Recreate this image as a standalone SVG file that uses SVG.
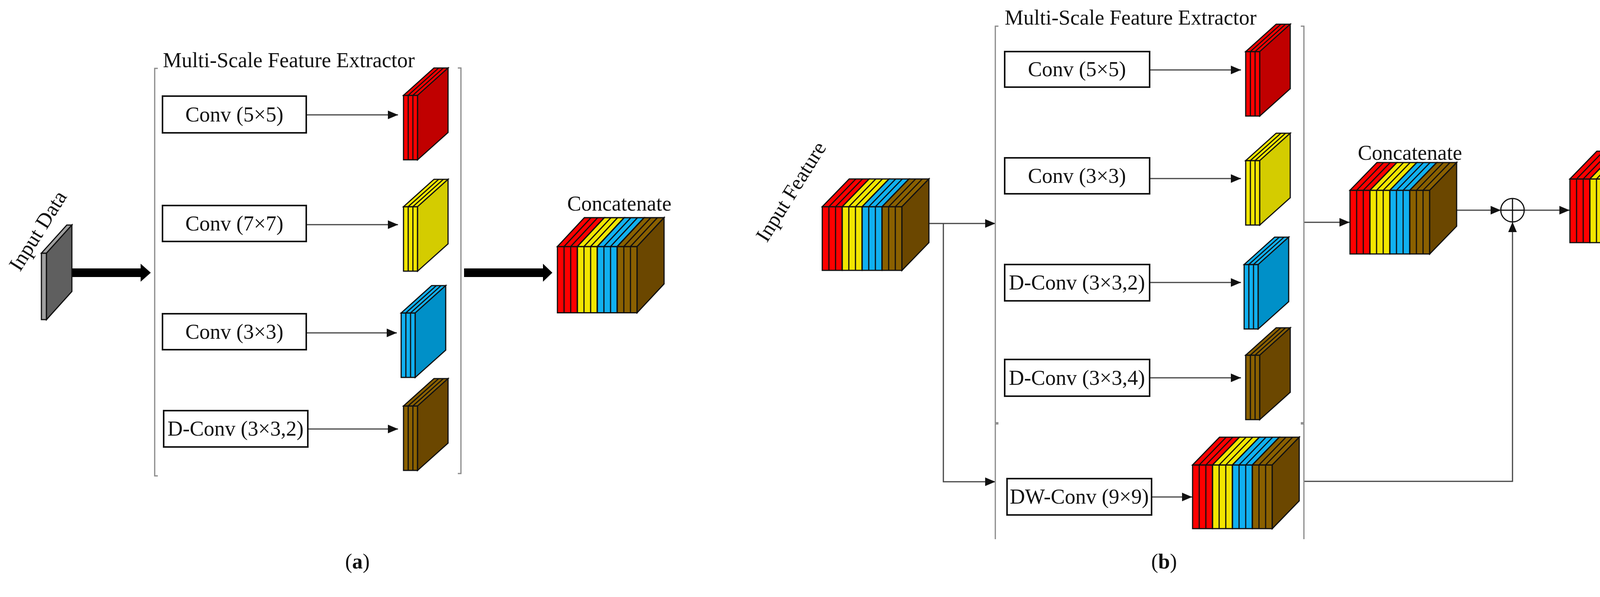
<svg xmlns="http://www.w3.org/2000/svg" width="4306" height="1528" viewBox="0 0 4306 1528">
<style>
text{font-family:"Liberation Serif","Times New Roman",serif;font-size:54px;fill:#111}
.box{fill:#fff;stroke:#111;stroke-width:4}
.br{fill:none;stroke:#888;stroke-width:3}
.ln{fill:none;stroke:#444;stroke-width:3;marker-end:url(#ah)}
.sl *{stroke:#111;stroke-width:3;stroke-linejoin:miter}
.sep{fill:none}
.rF{fill:#ff0000}.rS{fill:#c00000}
.yF{fill:#f2e600}.yS{fill:#d4cc00}
.bF{fill:#10b0f0}.bS{fill:#0090c8}
.nF{fill:#8a6000}.nS{fill:#6b4700}
.tc{text-anchor:middle}
</style>
<defs>
<marker id="ah" markerUnits="userSpaceOnUse" markerWidth="30" markerHeight="26" refX="26" refY="11" orient="auto">
<path d="M0,0 L26,11 L0,22 Z" fill="#111"/>
</marker>
<g id="s3r" class="sl"><rect class="rF" x="0" y="0" width="36" height="165"/><polygon class="rF" points="0,0 78,-70 114,-70 36,0"/><polygon class="rS" points="36,0 114,-70 114,95 36,165"/><path class="sep" d="M12,165V0l78,-70M24,165V0l78,-70"/></g>
<g id="s3y" class="sl"><rect class="yF" x="0" y="0" width="36" height="165"/><polygon class="yF" points="0,0 78,-70 114,-70 36,0"/><polygon class="yS" points="36,0 114,-70 114,95 36,165"/><path class="sep" d="M12,165V0l78,-70M24,165V0l78,-70"/></g>
<g id="s3b" class="sl"><rect class="bF" x="0" y="0" width="36" height="165"/><polygon class="bF" points="0,0 78,-70 114,-70 36,0"/><polygon class="bS" points="36,0 114,-70 114,95 36,165"/><path class="sep" d="M12,165V0l78,-70M24,165V0l78,-70"/></g>
<g id="s3n" class="sl"><rect class="nF" x="0" y="0" width="36" height="165"/><polygon class="nF" points="0,0 78,-70 114,-70 36,0"/><polygon class="nS" points="36,0 114,-70 114,95 36,165"/><path class="sep" d="M12,165V0l78,-70M24,165V0l78,-70"/></g>
<g id="s12" class="sl">
<rect class="rF" x="0" y="0" width="51" height="163"/><rect class="yF" x="51" y="0" width="51" height="163"/><rect class="bF" x="102" y="0" width="51" height="163"/><rect class="nF" x="153" y="0" width="51" height="163"/>
<polygon class="rF" points="0,0 69,-71 120,-71 51,0"/><polygon class="yF" points="51,0 120,-71 171,-71 102,0"/><polygon class="bF" points="102,0 171,-71 222,-71 153,0"/><polygon class="nF" points="153,0 222,-71 273,-71 204,0"/>
<polygon class="nS" points="204,0 273,-71 273,92 204,163"/>
<path class="sep" d="M17,163V0l69,-71M34,163V0l69,-71M51,163V0l69,-71M68,163V0l69,-71M85,163V0l69,-71M102,163V0l69,-71M119,163V0l69,-71M136,163V0l69,-71M153,163V0l69,-71M170,163V0l69,-71M187,163V0l69,-71"/>
</g>
</defs>

<g id="connectors">
<path class="ln" d="M784,294 H1019"/>
<path class="ln" d="M784,575 H1019"/>
<path class="ln" d="M784,852 H1016"/>
<path class="ln" d="M788,1098 H1019"/>
<polygon points="158,687 360,687 360,675 386,698 360,721 360,709 158,709" fill="#000"/>
<polygon points="1188,687 1390,687 1390,675 1414,698 1390,721 1390,709 1188,709" fill="#000"/>
<path class="ln" d="M2346,572 H2548"/>
<path class="ln" d="M2415,572 V1233 H2548"/>
<path class="ln" d="M2943,179 H3177"/>
<path class="ln" d="M2943,457 H3177"/>
<path class="ln" d="M2943,723 H3177"/>
<path class="ln" d="M2943,967 H3177"/>
<path class="ln" d="M2948,1272 H3052"/>
<path class="ln" d="M3338,569 H3455"/>
<path class="ln" d="M3715,538 H3842"/>
<path class="ln" d="M3902,538 H4018"/>
<path class="ln" d="M3338,1232 H3872 V568"/>
</g>

<g id="panel-a">
<g id="a-bracket"><path class="br" d="M404,175 H396 V1218 H404"/><path class="br" d="M1172,174 H1180 V1212 H1172"/></g>
<text x="417" y="172">Multi-Scale Feature Extractor</text>
<g id="a-input" class="sl"><rect x="106" y="648" width="13" height="170" fill="#a0a0a0"/><polygon points="106,648 171,576 184,576 119,648" fill="#a0a0a0"/><polygon points="119,648 184,576 184,746 119,818" fill="#5f5f5f"/></g>
<text class="tc" transform="translate(112,600) rotate(-58)">Input Data</text>
<g id="a-conv5"><rect class="box" x="416" y="246" width="368" height="94"/><text class="tc" x="600" y="311">Conv (5×5)</text></g>
<g id="a-conv7"><rect class="box" x="416" y="526" width="368" height="92"/><text class="tc" x="600" y="590">Conv (7×7)</text></g>
<g id="a-conv3"><rect class="box" x="416" y="803" width="368" height="92"/><text class="tc" x="600" y="867">Conv (3×3)</text></g>
<g id="a-dconv"><rect class="box" x="419" y="1051" width="369" height="93"/><text class="tc" x="603" y="1115">D-Conv (3×3,2)</text></g>
<use href="#s3r" x="1033" y="244"/>
<use href="#s3y" x="1033" y="529"/>
<use href="#s3b" x="1027" y="801"/>
<use href="#s3n" x="1033" y="1039"/>
<g id="a-concat"><use href="#s12" transform="translate(1427,631) scale(1,1.04)"/><text x="1452" y="539">Concatenate</text></g>
<text class="tc" x="915" y="1455">(<tspan font-weight="bold">a</tspan>)</text>
</g>

<g id="panel-b">
<g id="b-bracket"><path class="br" d="M2556,67 H2548 V1082 H2556"/><path class="br" d="M3330,67 H3338 V1082 H3330"/><path class="br" d="M2556,1085 H2548 V1380"/><path class="br" d="M3330,1085 H3338 V1380"/></g>
<text x="2572" y="63">Multi-Scale Feature Extractor</text>
<g id="b-input"><use href="#s12" x="2105" y="529"/><text class="tc" transform="translate(2040,500) rotate(-58)">Input Feature</text></g>
<g id="b-conv5"><rect class="box" x="2572" y="132" width="371" height="91"/><text class="tc" x="2757" y="195">Conv (5×5)</text></g>
<g id="b-conv3"><rect class="box" x="2572" y="404" width="371" height="92"/><text class="tc" x="2757" y="468">Conv (3×3)</text></g>
<g id="b-dconv2"><rect class="box" x="2572" y="677" width="371" height="93"/><text class="tc" x="2757" y="741">D-Conv (3×3,2)</text></g>
<g id="b-dconv4"><rect class="box" x="2572" y="920" width="371" height="94"/><text class="tc" x="2757" y="985">D-Conv (3×3,4)</text></g>
<g id="b-dwconv"><rect class="box" x="2578" y="1225" width="370" height="93"/><text class="tc" x="2763" y="1289">DW-Conv (9×9)</text></g>
<use href="#s3r" x="3189" y="132"/>
<use href="#s3y" x="3189" y="411"/>
<use href="#s3b" x="3185" y="677"/>
<use href="#s3n" x="3189" y="909"/>
<use href="#s12" x="3053" y="1190"/>
<g id="b-concat"><use href="#s12" x="3456" y="487"/><text x="3476" y="409">Concatenate</text></g>
<g id="b-add"><circle cx="3872" cy="538" r="30" fill="#fff" stroke="#111" stroke-width="3"/><path d="M3842,538H3902M3872,508V568" stroke="#111" stroke-width="3"/></g>
<use id="b-output" href="#s12" x="4019" y="458"/>
<text class="tc" x="2980" y="1455">(<tspan font-weight="bold">b</tspan>)</text>
</g>
</svg>
